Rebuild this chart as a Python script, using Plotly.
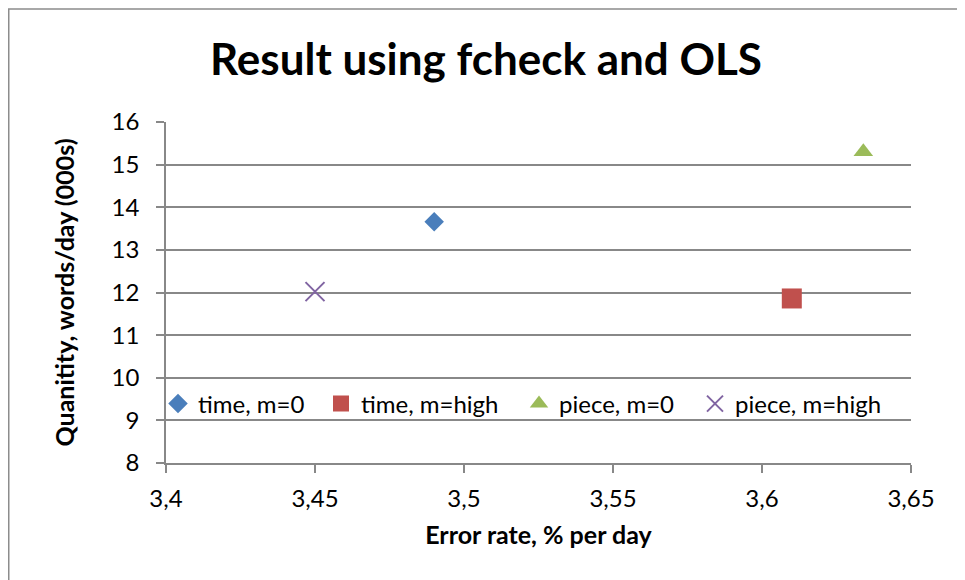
import plotly.graph_objects as go

series_names = ["time, m=0", "time, m=high", "piece, m=0", "piece, m=high"]
error_rate = [3.49, 3.61, 3.634, 3.45]
quantity = [13.66, 11.86, 15.30, 12.02]
colors = ["#4A7EBB", "#C0504D", "#9BBB59", "#8064A2"]
symbols = ["diamond", "square", "triangle-up", "x-thin-open"]
sizes = [15, 20, 17, 19]

x_tickvals = [3.4, 3.45, 3.5, 3.55, 3.6, 3.65]
x_ticktext = ["3,4", "3,45", "3,5", "3,55", "3,6", "3,65"]
y_tickvals = [8, 9, 10, 11, 12, 13, 14, 15, 16]

FONT = "Lato"
GRID = "#888888"

# page body has an 8px margin: figure coordinates = reference pixel - 8
L, R, T, B = 158, 62, 114, 125
PW, PH = 965 - L - R, 580 - T - B

# legend entry positions (figure px of each legend box's left edge)
legend_left_px = [150, 313, 511, 687]
legend_ids = ["legend", "legend2", "legend3", "legend4"]

fig = go.Figure()
for name, xv, yv, c, s, sz, lg in zip(series_names, error_rate, quantity, colors, symbols, sizes, legend_ids):
    marker = dict(color=c, symbol=s, size=sz)
    if s.startswith("x"):
        marker["line"] = dict(color=c, width=2)
    else:
        marker["line"] = dict(width=0)
    fig.add_trace(go.Scatter(x=[xv], y=[yv], mode="markers", name=name, marker=marker, legend=lg))

legend_common = dict(orientation="h", xanchor="left", y=0.173, yanchor="middle",
                     bgcolor="rgba(255,255,255,0)", font=dict(family=FONT, size=24),
                     itemwidth=30, borderwidth=0)
legends = {}
for lg, px in zip(legend_ids, legend_left_px):
    legends[lg] = dict(legend_common, x=(px - L) / PW)

fig.update_layout(
    width=965, height=580,
    margin=dict(l=L, r=R, t=T, b=B),
    paper_bgcolor="white", plot_bgcolor="white",
    font=dict(family=FONT, size=24, color="black"),
    title=dict(text="<b>Result using fcheck and OLS</b>", x=(486 - 8 - L) / PW, xanchor="center",
               xref="paper", y=1 - 52 / 580, yanchor="middle",
               font=dict(family=FONT, size=44, color="black")),
    showlegend=True,
    xaxis=dict(range=[3.4, 3.65], tickvals=x_tickvals, ticktext=x_ticktext,
               showgrid=False, zeroline=False, showline=True, linecolor=GRID, linewidth=1.5,
               ticks="outside", ticklen=8, tickcolor=GRID, tickwidth=1.5, ticklabelstandoff=5,
               title=dict(text="<b>Error rate, % per day</b>", font=dict(size=25), standoff=16)),
    yaxis=dict(range=[8, 16], tickvals=y_tickvals,
               showgrid=True, gridcolor=GRID, gridwidth=1.5, zeroline=False,
               showline=True, linecolor=GRID, linewidth=1.5,
               ticks="outside", ticklen=8, tickcolor=GRID, tickwidth=1.5, ticklabelstandoff=12,
               title=dict(text="<b>Quanitity, words/day (000s)</b>", font=dict(size=25), standoff=30)),
    shapes=[dict(type="rect", xref="paper", yref="paper",
                 x0=(0.75 - L) / PW, x1=(954 - L) / PW,
                 y0=(PH + T - 700) / PH, y1=(PH + T - 1) / PH,
                 line=dict(color="#8C8C8C", width=1.5), fillcolor="rgba(0,0,0,0)", layer="below")],
    **legends,
)

fig.write_html("out.html")
